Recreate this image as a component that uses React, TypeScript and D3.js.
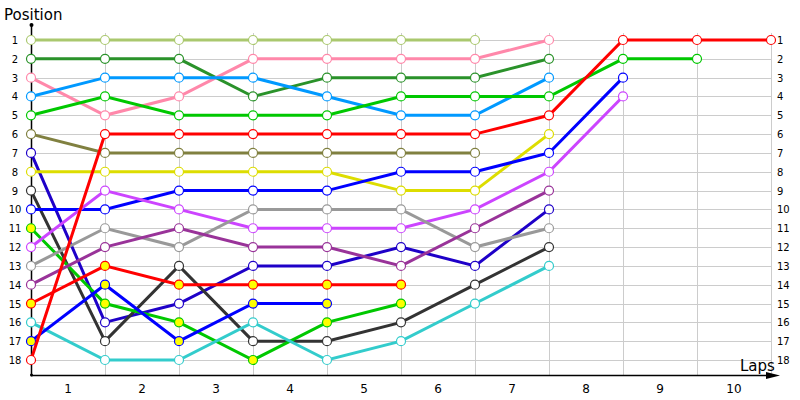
import React, { useEffect, useRef } from 'react';
import * as d3 from 'd3';

// lap index 0 = grid position, then one value per completed lap
const lapLabels = ['1', '2', '3', '4', '5', '6', '7', '8', '9', '10'];
const positions = d3.range(1, 19);

const seriesColors = [
  '#aac86e', '#2a922a', '#ff88aa', '#0099ff', '#00c800', '#808040',
  '#1e00c8', '#dddd00', '#333333', '#0000ff', '#00c800', '#cc44ff',
  '#999999', '#993399', '#ff0000', '#33cccc', '#0000ff', '#ff0000',
];
const markerFills = [
  '#fff', '#fff', '#fff', '#fff', '#fff', '#fff',
  '#fff', '#fff', '#fff', '#fff', '#ffff00', '#fff',
  '#fff', '#fff', '#ffff00', '#fff', '#ffff00', '#fff',
];
const seriesPositions = [
  [1, 1, 1, 1, 1, 1, 1],
  [2, 2, 2, 4, 3, 3, 3, 2],
  [3, 5, 4, 2, 2, 2, 2, 1],
  [4, 3, 3, 3, 4, 5, 5, 3],
  [5, 4, 5, 5, 5, 4, 4, 4, 2, 2],
  [6, 7, 7, 7, 7, 7, 7],
  [7, 16, 15, 13, 13, 12, 13, 10],
  [8, 8, 8, 8, 8, 9, 9, 6],
  [9, 17, 13, 17, 17, 16, 14, 12],
  [10, 10, 9, 9, 9, 8, 8, 7, 3],
  [11, 15, 16, 18, 16, 15],
  [12, 9, 10, 11, 11, 11, 10, 8, 4],
  [13, 11, 12, 10, 10, 10, 12, 11],
  [14, 12, 11, 12, 12, 13, 11, 9],
  [15, 13, 14, 14, 14, 14],
  [16, 18, 18, 16, 18, 17, 15, 13],
  [17, 14, 17, 15, 15],
  [18, 6, 6, 6, 6, 6, 6, 5, 1, 1, 1],
];

const App = () => {
  const ref = useRef<SVGSVGElement>(null);

  useEffect(() => {
    const svg = d3.select(ref.current);
    svg.selectAll('*').remove();

    const font = 'Tahoma, "DejaVu Sans", sans-serif';
    const x = d3.scaleLinear().domain([0, lapLabels.length]).range([31, 771]);
    const y = d3.scaleLinear().domain([1, 18]).range([40, 360]);
    const axisY = 375;

    // grid
    const grid = svg.append('g').attr('stroke', '#cccccc').attr('stroke-width', 1);
    grid.selectAll('.h').data(positions).enter().append('line')
      .attr('x1', x(0)).attr('x2', x(10))
      .attr('y1', (d) => Math.round(y(d)) + 0.5).attr('y2', (d) => Math.round(y(d)) + 0.5);
    grid.selectAll('.v').data(d3.range(1, 11)).enter().append('line')
      .attr('x1', (d) => Math.round(x(d)) + 0.5).attr('x2', (d) => Math.round(x(d)) + 0.5)
      .attr('y1', 33).attr('y2', axisY);

    // axes
    svg.append('line').attr('x1', 31.5).attr('x2', 31.5).attr('y1', 25).attr('y2', axisY)
      .attr('stroke', '#000').attr('stroke-width', 1.5);
    svg.append('circle').attr('cx', 31.5).attr('cy', 25).attr('r', 2).attr('fill', '#000');
    svg.append('circle').attr('cx', 31.5).attr('cy', axisY).attr('r', 1.5).attr('fill', '#000');
    svg.append('line').attr('x1', 31).attr('x2', 772).attr('y1', axisY + 0.5).attr('y2', axisY + 0.5)
      .attr('stroke', '#000').attr('stroke-width', 1.5);
    svg.append('path').attr('d', `M766,${axisY - 3} L780,${axisY + 0.5} L766,${axisY + 4} Z`).attr('fill', '#000');

    // tick labels
    svg.append('g').selectAll('text').data(positions).enter().append('text')
      .attr('x', 15).attr('y', (d) => y(d) + 4).attr('text-anchor', 'middle')
      .attr('font-family', font).attr('font-size', 10).text((d) => d);
    svg.append('g').selectAll('text').data(positions).enter().append('text')
      .attr('x', 777).attr('y', (d) => y(d) + 4)
      .attr('font-family', font).attr('font-size', 10).text((d) => d);
    svg.append('g').selectAll('text').data(lapLabels).enter().append('text')
      .attr('x', (d, i) => x(i + 0.5)).attr('y', 393).attr('text-anchor', 'middle')
      .attr('font-family', font).attr('font-size', 12).text((d) => d);

    svg.append('text').attr('x', 4).attr('y', 20).attr('font-family', font).attr('font-size', 15).text('Position');
    svg.append('text').attr('x', 740).attr('y', 371).attr('font-family', font).attr('font-size', 15).text('Laps');

    // series
    const line = d3.line<number>().x((d, i) => x(i)).y((d) => y(d));
    seriesPositions.forEach((vals, s) => {
      const g = svg.append('g');
      g.append('path').datum(vals).attr('d', line).attr('fill', 'none')
        .attr('stroke', seriesColors[s]).attr('stroke-width', 3);
      g.selectAll('circle').data(vals).enter().append('circle')
        .attr('cx', (d, i) => x(i)).attr('cy', (d) => y(d)).attr('r', 4.5)
        .attr('fill', markerFills[s]).attr('stroke', seriesColors[s]).attr('stroke-width', 1.2);
    });
  }, []);

  return (
    <svg ref={ref} width={800} height={400} style={{ position: 'absolute', left: 0, top: 0, background: '#fff' }} />
  );
};

export default App;
